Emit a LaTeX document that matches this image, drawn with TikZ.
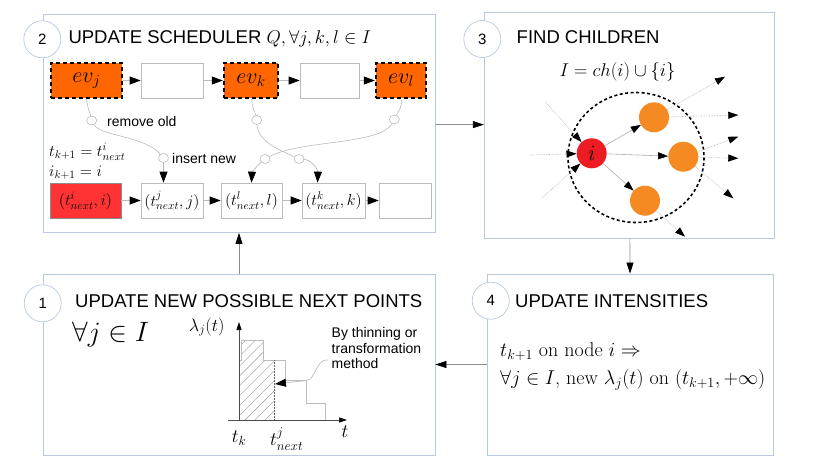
\RequirePackage{fix-cm}
\documentclass[tikz,border=0pt]{standalone}
\usepackage{amsmath,amssymb}
\usepackage{fontspec}
\setsansfont{Liberation Sans}
\usepackage{xcolor}
\usepackage{tikz}
\usetikzlibrary{shapes.geometric, arrows.meta, positioning, calc, patterns.meta}
\definecolor{panelblue}{HTML}{B8C9E1}
\definecolor{evorange}{HTML}{FF6600}
\definecolor{redbox}{HTML}{FF3333}
\definecolor{nodered}{HTML}{ED1C24}
\definecolor{kidorange}{HTML}{F58A22}
\definecolor{linkgray}{HTML}{8C8C8C}
\definecolor{boxgray}{HTML}{BBBBBB}
\newcommand{\setfs}[1]{\fontsize{#1}{#1}\selectfont}
\tikzstyle{panel} = [rectangle, draw=panelblue, line width=0.8pt, fill=white]
\tikzstyle{stepnum} = [circle, draw=panelblue, line width=0.7pt, fill=white, minimum size=37pt,
  inner sep=0pt, font=\sffamily\setfs{15}]
\tikzstyle{paneltitle} = [anchor=base west, inner sep=0pt, font=\sffamily\setfs{18.5}]
\tikzstyle{evbox} = [rectangle, draw=black, line width=2.4pt, dash pattern=on 4pt off 3pt,
  fill=evorange, minimum height=35pt, inner sep=1pt, font=\setfs{22}]
\tikzstyle{qbox} = [rectangle, draw=boxgray, line width=0.7pt, fill=white, minimum height=35pt,
  inner sep=1pt, font=\setfs{16}]
\tikzstyle{hookdot} = [ellipse, draw=boxgray, line width=0.6pt, fill=white, minimum width=10pt,
  minimum height=9pt, inner sep=0pt]
\tikzstyle{wire} = [draw=boxgray, line width=0.6pt]
\tikzstyle{qarrow} = [draw=boxgray, line width=0.7pt, -{Triangle[length=11pt, width=8pt, color=black]}]
\tikzstyle{panellink} = [draw=linkgray, line width=0.7pt, -{Triangle[length=11pt, width=7pt, color=black]}]
\tikzstyle{note} = [inner sep=0pt, font=\sffamily\setfs{14}]
\tikzstyle{kiddot} = [circle, fill=kidorange, minimum size=30pt, inner sep=0pt]
\tikzstyle{kidarrow} = [draw=linkgray!70, line width=0.6pt, -{Triangle[length=10pt, width=7pt, color=black]}]
\tikzstyle{dotarrow} = [draw=linkgray!70, line width=0.6pt, densely dotted,
  -{Triangle[length=10pt, width=7pt, color=black, sep=0pt]}]
\tikzstyle{axisarrow} = [draw=black!70, line width=0.6pt, -{Triangle[length=8pt, width=5pt, color=black]}]

\begin{document}
\begin{tikzpicture}[x=1pt, y=-1pt]
  \useasboundingbox (0,0) rectangle (830,467);

  % the four panels
  \node (p2) [panel, minimum width=392pt, minimum height=218pt] at (239,123.5) {};
  \node (p3) [panel, minimum width=290pt, minimum height=226pt] at (629.3,125.3) {};
  \node (p1) [panel, minimum width=392pt, minimum height=181pt] at (239,364.5) {};
  \node (p4) [panel, minimum width=286pt, minimum height=181pt] at (630.5,364.5) {};

  \draw[panellink] (p2) -- (p3);
  \draw[panellink] (p3) -- (p4);
  \draw[panellink] (p4) -- (p1);
  \draw[panellink] (p1) -- (p2);

  \node (n2) [stepnum] at (42.3,39.3) {2};
  \node (n3) [stepnum] at (482.3,39) {3};
  \node (n1) [stepnum] at (42.7,303.3) {1};
  \node (n4) [stepnum] at (490.7,300.7) {4};

  \node (t2) [paneltitle] at (68.3,43.3) {UPDATE SCHEDULER $Q, \forall j, k, l \in I$};
  \node (t3) [paneltitle] at (516.5,43.3) {FIND CHILDREN};
  \node (t1) [paneltitle] at (75,307) {UPDATE NEW POSSIBLE NEXT POINTS};
  \node (t4) [paneltitle] at (515,307) {UPDATE INTENSITIES};

  % scheduler: old queue
  \node (evj) [evbox, minimum width=71pt] at (86.5,80.5) {$ev_j$};
  \node (e1) [qbox, minimum width=62pt] at (172,80.5) {};
  \node (evk) [evbox, minimum width=54pt] at (251,80.5) {$ev_k$};
  \node (e2) [qbox, minimum width=59pt] at (329.5,80.5) {};
  \node (evl) [evbox, minimum width=50pt] at (401,80.5) {$ev_l$};
  \draw[qarrow] (evj) -- (e1);
  \draw[qarrow] (e1) -- (evk);
  \draw[qarrow] (evk) -- (e2);
  \draw[qarrow] (e2) -- (evl);

  % scheduler: new queue
  \node (ri) [qbox, fill=redbox, draw=linkgray, minimum width=71pt] at (85.5,200.5) {$(t^i_{next}, i)$};
  \node (bj) [qbox, minimum width=62pt] at (172,200.5) {$(t^j_{next}, j)$};
  \node (bl) [qbox, minimum width=61pt] at (251.5,200.5) {$(t^l_{next}, l)$};
  \node (bk) [qbox, minimum width=63pt] at (333.5,200.5) {$(t^k_{next}, k)$};
  \node (bx) [qbox, minimum width=52pt] at (405,200.5) {};
  \draw[qarrow] (ri) -- (bj);
  \draw[qarrow] (bj) -- (bl);
  \draw[qarrow] (bl) -- (bk);
  \draw[qarrow] (bk) -- (bx);

  % remove / insert wires
  \node (h1) [hookdot] at (91.7,120.5) {};
  \node (h2) [hookdot] at (163.5,158) {};
  \node (h3) [hookdot] at (256.7,120) {};
  \node (h4) [hookdot] at (299,159) {};
  \node (h5) [hookdot] at (394.3,119.5) {};
  \node (h6) [hookdot] at (265,159) {};
  \draw[wire] (evj) .. controls (87,108) and (90,112) .. (h1);
  \draw[wire] (h1) .. controls (100,136) and (145,136) .. (h2);
  \draw[qarrow] (h2) -- (h2 |- bj.north);
  \draw[wire] (evk) .. controls (252,108) and (255,112) .. (h3);
  \draw[wire] (h3) .. controls (258,142) and (280,150) .. (h4);
  \draw[qarrow] (h4) .. controls (312,160) and (318,170) .. ($(bk.north west)!0.25!(bk.north east)$);
  \draw[wire] (evl) .. controls (402,108) and (398,112) .. (h5);
  \draw[wire] (h5) .. controls (380,145) and (300,140) .. (h6);
  \draw[qarrow] (h6) .. controls (258,165) and (252,172) .. (bl.north);

  \node (rm) [note, anchor=west] at (107,121) {remove old};
  \node (ins) [note, anchor=west] at (172,158.5) {insert new};
  \node (tk1) [anchor=base west, inner sep=0pt, font=\setfs{16}] at (49,156.5) {$t_{k+1} = t^i_{next}$};
  \node (ik1) [anchor=base west, inner sep=0pt, font=\setfs{16}] at (49,176.5) {$i_{k+1} = i$};

  % children of node i
  \node (fi) [font=\setfs{18.5}] at (617.5,72) {$I = ch(i) \cup \{i\}$};
  \draw[black, line width=1.6pt, dash pattern=on 3pt off 2.5pt] (636,157.5) ellipse [x radius=68, y radius=65];
  \node (ci) [circle, fill=nodered, minimum size=30pt, inner sep=0pt, font=\setfs{22}] at (591.7,153.3) {$i$};
  \node (c1) [kiddot] at (654,117.3) {};
  \node (c2) [kiddot] at (683.3,156.7) {};
  \node (c3) [kiddot] at (645,200.7) {};
  \draw[kidarrow] (ci) -- (c1);
  \draw[kidarrow] (ci) -- (c2);
  \draw[kidarrow] (ci) -- (c3);
  \coordinate (a1) at (545,101.7);
  \coordinate (a2) at (530,155);
  \coordinate (a3) at (541.7,198.3);
  \coordinate (b1) at (725,76.7);
  \coordinate (b2) at (738.3,115);
  \coordinate (b3) at (738.3,136.7);
  \coordinate (b4) at (738.3,158.3);
  \coordinate (b5) at (733.3,198.3);
  \coordinate (b6) at (685,236.7);
  \draw[dotarrow] (a1) -- (ci);
  \draw[dotarrow] (a2) -- (ci);
  \draw[dotarrow] (a3) -- (ci);
  \draw[dotarrow] (c1) -- (b1);
  \draw[dotarrow] (c1) -- (b2);
  \draw[dotarrow] (c2) -- (b3);
  \draw[dotarrow] (c2) -- (b4);
  \draw[dotarrow] (c2) -- (b5);
  \draw[dotarrow] (c3) -- (b6);

  % next points
  \node (fa) [anchor=base west, inner sep=0pt, font=\setfs{28}] at (72,341.7) {$\forall j \in I$};
  \fill[pattern={Lines[angle=45, distance=7pt, line width=0.4pt]}, pattern color=black!40]
    (239,420) -- (239,360) -- (241.7,360) -- (241.7,340) -- (263.3,340) -- (263.3,360)
    -- (274,360) -- (274,420) -- cycle;
  \draw[boxgray, line width=0.7pt] (239,420) -- (239,360) -- (241.7,360) -- (241.7,340)
    -- (263.3,340) -- (263.3,360) -- (285,360) -- (285,380.7) -- (306,380.7) -- (306,403.3)
    -- (325,403.3) -- (325,420);
  \draw[black!60, densely dotted, line width=0.5pt] (274,360) -- (274,420);
  \draw[axisarrow] (228,420) -- (347,420);
  \draw[axisarrow] (239,420) -- (239,322);
  \node (lam) [font=\setfs{18}] at (206.7,327) {$\lambda_j(t)$};
  \node (tk) [font=\setfs{19}] at (239,438) {$t_k$};
  \node (tn) [font=\setfs{19}] at (286.7,439) {$t^j_{next}$};
  \node (tt) [font=\setfs{19}] at (345,432) {$t$};
  \node (meth) [note, align=left, anchor=north west, font=\sffamily\fontsize{14}{15.5}\selectfont]
    at (331.5,327.5) {By thinning or\\transformation\\method};
  \coordinate (ms) at (328,360);
  \coordinate (tip) at (275,384);
  \draw[qarrow] (ms) .. controls (316,358) and (316,380) .. (306,380.5) -- (tip);

  % intensities
  \node (l1) [anchor=base west, inner sep=0pt, font=\setfs{20}] at (500,356) {$t_{k+1}$ on node $i \Rightarrow$};
  \node (l2) [anchor=base west, inner sep=0pt, font=\setfs{20}] at (500,384) {$\forall j \in I$, new $\lambda_j(t)$ on $(t_{k+1}, +\infty)$};
\end{tikzpicture}
\end{document}
